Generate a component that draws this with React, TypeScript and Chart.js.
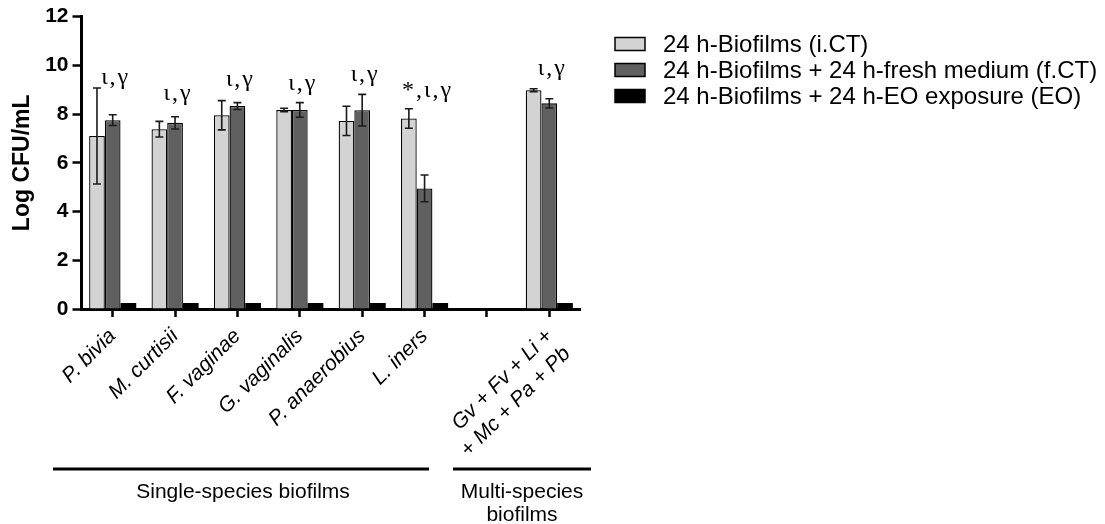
import React, { useEffect, useRef } from "react";
import { Chart, registerables } from "chart.js";

Chart.register(...registerables);

const FONT = "'Liberation Sans', Arial, Helvetica, sans-serif";
const SERIF = "'Liberation Serif', 'Times New Roman', 'DejaVu Serif', serif";

// ---- data ----
const categories: (string | string[])[] = [
  "P. bivia",
  "M. curtisii",
  "F. vaginae",
  "G. vaginalis",
  "P. anaerobius",
  "L. iners",
  "",
  ["Gv + Fv + Li +", "+ Mc + Pa + Pb"],
];

const seriesNames = [
  "24 h-Biofilms (i.CT)",
  "24 h-Biofilms + 24 h-fresh medium (f.CT)",
  "24 h-Biofilms + 24 h-EO exposure (EO)",
];

const iCT = [7.1, 7.38, 7.95, 8.17, 7.72, 7.82, null, 8.98];
const iCTErr = [1.97, 0.32, 0.6, 0.07, 0.6, 0.4, null, 0.06];
const fCT = [7.75, 7.64, 8.33, 8.17, 8.16, 4.95, null, 8.44];
const fCTErr = [0.22, 0.25, 0.14, 0.3, 0.65, 0.55, null, 0.19];
const EO = [0.25, 0.25, 0.25, 0.25, 0.25, 0.25, null, 0.25];

const yTicks = [0, 2, 4, 6, 8, 10, 12];

const annotationText = ["ι,γ", "ι,γ", "ι,γ", "ι,γ", "ι,γ", "*,ι,γ", "", "ι,γ"];
const annotationY = [9.25, 8.56, 9.17, 9.0, 9.34, 8.68, null, 9.62];

const groupLabels = [["Single-species biofilms"], ["Multi-species", "biofilms"]];

// ---- plugins ----
const errorBarPlugin = {
  id: "errorBars",
  afterDatasetsDraw(chart: any) {
    const ctx = chart.ctx;
    const y = chart.scales.y;
    chart.data.datasets.forEach((ds: any, i: number) => {
      if (!ds.errors) return;
      const meta = chart.getDatasetMeta(i);
      meta.data.forEach((el: any, j: number) => {
        const v = ds.data[j];
        const e = ds.errors[j];
        if (v == null || e == null) return;
        const x = el.x;
        const top = y.getPixelForValue(v + e);
        const bot = y.getPixelForValue(v - e);
        ctx.save();
        ctx.strokeStyle = "#1a1a1a";
        ctx.lineWidth = 1.6;
        ctx.beginPath();
        ctx.moveTo(x, top);
        ctx.lineTo(x, bot);
        ctx.moveTo(x - 4, top);
        ctx.lineTo(x + 4, top);
        ctx.moveTo(x - 4, bot);
        ctx.lineTo(x + 4, bot);
        ctx.stroke();
        ctx.restore();
      });
    });
  },
};

const annotationPlugin = {
  id: "sigMarks",
  afterDatasetsDraw(chart: any) {
    const ctx = chart.ctx;
    const xs = chart.scales.x;
    const ys = chart.scales.y;
    ctx.save();
    ctx.fillStyle = "#000";
    ctx.font = `24px ${SERIF}`;
    try {
      (ctx as any).letterSpacing = "2px";
    } catch (e) {}
    ctx.textAlign = "center";
    ctx.textBaseline = "alphabetic";
    annotationText.forEach((t, i) => {
      const v = annotationY[i];
      if (!t || v == null) return;
      ctx.fillText(t, xs.getPixelForValue(i) + 3, ys.getPixelForValue(v));
    });
    ctx.restore();
  },
};

const legendPlugin = {
  id: "sideLegend",
  afterDraw(chart: any) {
    const ctx = chart.ctx;
    const rows = [44, 70, 96];
    ctx.save();
    chart.data.datasets.forEach((ds: any, i: number) => {
      const cy = rows[i];
      ctx.fillStyle = ds.backgroundColor;
      ctx.fillRect(615, cy - 6.5, 30, 13);
      ctx.strokeStyle = "#000";
      ctx.lineWidth = 1.5;
      ctx.strokeRect(615, cy - 6.5, 30, 13);
      ctx.fillStyle = "#000";
      ctx.font = `24px ${FONT}`;
      ctx.textAlign = "left";
      ctx.textBaseline = "middle";
      ctx.fillText(ds.label, 663, cy + 1);
    });
    ctx.restore();
  },
};

const groupPlugin = {
  id: "groups",
  afterDraw(chart: any) {
    const ctx = chart.ctx;
    const spans = [
      [53, 429],
      [453, 591],
    ];
    ctx.save();
    ctx.strokeStyle = "#000";
    ctx.lineWidth = 3;
    ctx.fillStyle = "#000";
    ctx.font = `21px ${FONT}`;
    ctx.textAlign = "center";
    ctx.textBaseline = "middle";
    groupLabels.forEach((lines, g) => {
      const [a, b] = spans[g];
      ctx.beginPath();
      ctx.moveTo(a, 469);
      ctx.lineTo(b, 469);
      ctx.stroke();
      const cx = g === 0 ? 243 : 522;
      lines.forEach((ln, k) => ctx.fillText(ln, cx, 492 + k * 23));
    });
    ctx.restore();
  },
};

export default function App() {
  const ref = useRef<HTMLCanvasElement | null>(null);

  useEffect(() => {
    if (!ref.current) return;
    Chart.defaults.font.family = FONT;
    const chart = new Chart(ref.current, {
      type: "bar",
      data: {
        labels: categories as any,
        datasets: [
          {
            label: seriesNames[0],
            data: iCT,
            errors: iCTErr,
            backgroundColor: "#d3d3d3",
            borderColor: "#000",
            borderWidth: 1.3,
          } as any,
          {
            label: seriesNames[1],
            data: fCT,
            errors: fCTErr,
            backgroundColor: "#606060",
            borderColor: "#000",
            borderWidth: 1.3,
          } as any,
          {
            label: seriesNames[2],
            data: EO,
            backgroundColor: "#000",
            borderColor: "#000",
            borderWidth: 0,
          } as any,
        ],
      },
      options: {
        animation: false,
        responsive: true,
        maintainAspectRatio: false,
        layout: { padding: { left: 0, top: 16, right: 524.5, bottom: 0 } },
        datasets: { bar: { categoryPercentage: 0.755, barPercentage: 1 } },
        plugins: {
          legend: { display: false },
          tooltip: { enabled: false },
        },
        scales: {
          x: {
            grid: {
              display: true,
              drawOnChartArea: false,
              drawTicks: true,
              tickLength: 8,
              tickWidth: 2.5,
              tickColor: "#000",
              offset: false,
            },
            border: { display: true, color: "#000", width: 3 },
            ticks: {
              autoSkip: false,
              maxRotation: 45,
              minRotation: 45,
              color: "#000",
              padding: 7,
              font: { family: FONT, size: 21, style: "italic" },
            },
            afterFit: (s: any) => {
              s.height = 215;
            },
          },
          y: {
            min: 0,
            max: 12,
            afterBuildTicks: (s: any) => {
              s.ticks = yTicks.map((v) => ({ value: v }));
            },
            ticks: {
              color: "#000",
              padding: 4,
              font: { family: FONT, size: 21, weight: "bold" },
            },
            grid: {
              drawOnChartArea: false,
              drawTicks: true,
              tickLength: 9,
              tickWidth: 2.5,
              tickColor: "#000",
            },
            border: { display: true, color: "#000", width: 3 },
            title: {
              display: true,
              text: "Log CFU/mL",
              color: "#000",
              font: { family: FONT, size: 23, weight: "bold" },
              padding: { top: 9, bottom: 0 },
            },
            afterFit: (s: any) => {
              s.width = 81.5;
            },
          },
        },
      } as any,
      plugins: [errorBarPlugin, annotationPlugin, legendPlugin, groupPlugin],
    });
    return () => chart.destroy();
  }, []);

  return (
    <div style={{ position: "absolute", left: 0, top: 0, width: 1105, height: 524, background: "#fff" }}>
      <canvas ref={ref} />
    </div>
  );
}
